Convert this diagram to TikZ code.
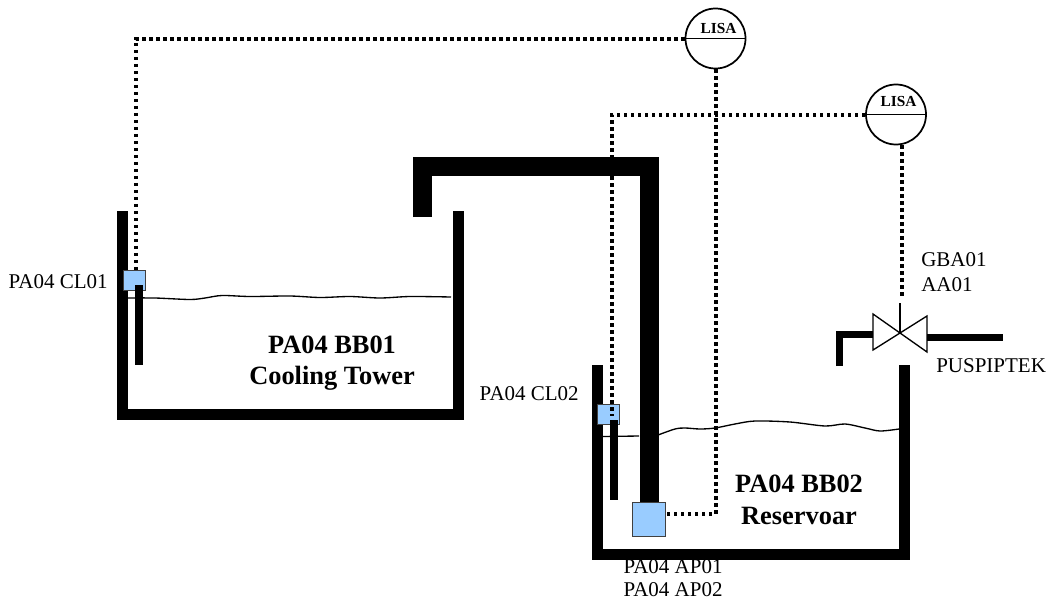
\documentclass[tikz,border=0pt]{standalone}
\usepackage{xcolor}
\usepackage{fontspec}
\setmainfont{Liberation Serif}
\usetikzlibrary{shapes,arrows,positioning}
\definecolor{sensorblue}{HTML}{99CCFF}
\tikzstyle{wall} = [draw, line width=8.25pt, miter limit=10]
\tikzstyle{pipe} = [draw, line width=14.25pt]
\tikzstyle{thinpipe} = [draw, line width=5.25pt]
\tikzstyle{signal} = [draw, line width=3pt, dash pattern=on 2.4pt off 2.85pt]
\tikzstyle{water} = [draw, line width=1pt]
\tikzstyle{sensor} = [draw=black!75, line width=0.7pt, fill=sensorblue, inner sep=0pt]
\tikzstyle{rod} = [fill=black]
\tikzstyle{lisa} = [draw, circle, line width=1.3pt, fill=white, minimum size=45pt, inner sep=0pt]
\tikzstyle{lisatext} = [font=\fontsize{11.5}{13}\selectfont\bfseries, inner sep=0pt]
\tikzstyle{tag} = [font=\fontsize{15.75}{18}\selectfont, inner sep=0pt]
\tikzstyle{tankname} = [font=\fontsize{19.8}{22}\selectfont\bfseries, inner sep=0pt]

\begin{document}
\begin{tikzpicture}[x=0.75pt, y=-0.75pt]
    \useasboundingbox (0,0) rectangle (1048,600);

    % Water levels
    \path [water] plot [smooth] coordinates {(128,298) (155,298) (190,299.5) (205,298) (222,295.5) (250,296.5) (290,296) (320,297.5) (350,296.5) (380,298) (410,296.5) (451,297)};
    \path [water] (603,436.5) -- (639,436);
    \path [water] plot [smooth] coordinates {(658,435) (675,429) (685,428) (700,429) (715,428) (735,424) (755,421) (790,422) (825,426) (845,424) (865,428) (880,431) (899,429)};

    % Tanks
    \path [wall] (122.5,211) -- (122.5,414.5) -- (458.5,414.5) -- (458.5,211);
    \path [wall] (597,365) -- (597,554.5) -- (904.5,554.5) -- (904.5,365);

    % Place nodes
    \node [sensor, minimum width=16.5pt, minimum height=15pt] (sensora) at (134,280) {};
    \node [sensor, minimum width=17pt, minimum height=15.5pt] (sensorb) at (608.5,414.5) {};
    \node [sensor, minimum width=24.75pt, minimum height=25.5pt] (pump) at (649,519) {};
    \node [lisa] (lisaa) at (715.5,38.5) {};
    \node [lisa] (lisab) at (896,114.5) {};
    \coordinate (pipeend) at (422.5,217);
    \coordinate (pipecorner) at (422.5,166.5);
    \coordinate (sensorbin) at (612,416);
    \coordinate (pumpout) at (666,514);
    \coordinate (valve) at (900,333);
    \coordinate (stem) at (900,303);
    \coordinate (valvesignal) at (902,296);
    \coordinate (drainend) at (839.5,366);
    \coordinate (outlet) at (1003,337.5);

    \path [rod] (135,285) rectangle (143,365);
    \path [rod] (610,420) rectangle (618,500);

    % Pipes
    \path [pipe] (pipeend) -- (pipecorner) -| (pump.north);
    \path [thinpipe] (drainend) |- (873,334.5);
    \path [thinpipe] (927,337.5) -- (outlet);

    % Valve
    \draw [line width=1pt] (873,314) -- (927,352) -- (927,316) -- (873,350) -- cycle;
    \draw [line width=1pt] (stem) -- (valve);

    % Signal lines
    \path [signal] (lisaa.west) -| ([xshift=1.5pt]sensora.north);
    \path [signal] (lisaa.south) |- (pumpout);
    \path [signal] (lisab.west) -| (sensorbin);
    \path [signal] ([xshift=4.5pt]lisab.south) -- (valvesignal);
    \draw [line width=1.3pt] (lisaa.west) -- (lisaa.east);
    \draw [line width=1.3pt] (lisab.west) -- (lisab.east);

    % Labels
    \node [lisatext] (lisaatext) at (718.5,28) {LISA};
    \node [lisatext] (lisabtext) at (898.5,101.5) {LISA};
    \node [tag, anchor=east] (taga) at (108,282) {PA04 CL01};
    \node [tag, anchor=east] (tagb) at (579,394) {PA04 CL02};
    \node [tag] (tagc) at (673,567) {PA04 AP01};
    \node [tag] (tagd) at (673,590) {PA04 AP02};
    \node [tag, anchor=west] (tage) at (921,260) {GBA01};
    \node [tag, anchor=west] (tagf) at (921,285) {AA01};
    \node [tag, anchor=west] (tagg) at (936,366) {PUSPIPTEK};
    \node [tankname] (namea) at (332,345) {PA04 BB01};
    \node [tankname] (nameb) at (332,378) {Cooling Tower};
    \node [tankname] (namec) at (799,484) {PA04 BB02};
    \node [tankname] (named) at (799,516) {Reservoar};
\end{tikzpicture}
\end{document}
